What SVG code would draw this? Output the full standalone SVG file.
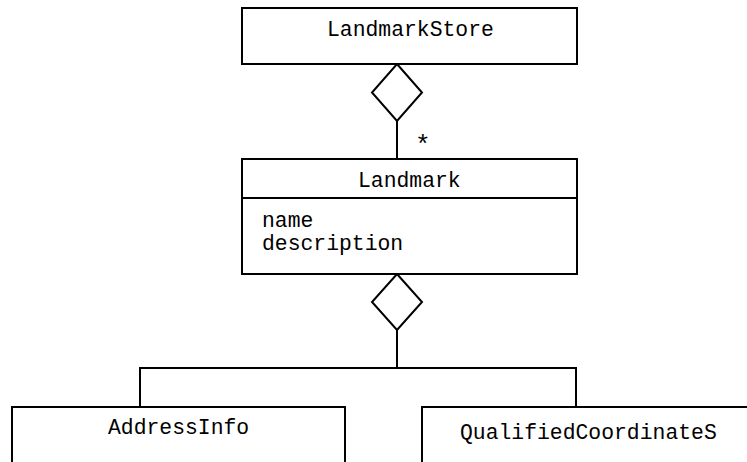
<svg xmlns="http://www.w3.org/2000/svg" width="747" height="462" viewBox="0 0 747 462">
<style>
.box{fill:#fff;stroke:#000;stroke-width:2}
.ln{fill:none;stroke:#000;stroke-width:2}
.dia{fill:#fff;stroke:#000;stroke-width:2}
text{font-family:"Liberation Mono","Courier New",monospace;font-size:21.4px;fill:#000}
.mult{font-size:26px}
</style>
<rect width="747" height="462" fill="#fff"/>
<g id="connectors">
<line class="ln" x1="397" y1="121" x2="397" y2="159"/>
<polygon class="dia" points="397,64 422,92.5 397,121 372,92.5"/>
<text class="mult" x="415" y="153">*</text>
<polyline class="ln" points="397,330 397,368"/>
<polyline class="ln" points="140,407 140,368 576,368 576,407"/>
<polygon class="dia" points="397,274 422,302 397,330 372,302"/>
</g>
<g id="LandmarkStore">
<rect class="box" x="242" y="8" width="335" height="56"/>
<text x="327" y="36">LandmarkStore</text>
</g>
<g id="Landmark">
<rect class="box" x="242" y="159" width="335" height="115"/>
<line class="ln" x1="242" y1="198" x2="577" y2="198"/>
<text x="358" y="187">Landmark</text>
<text x="262" y="227">name</text>
<text x="262" y="250">description</text>
</g>
<g id="AddressInfo">
<rect class="box" x="12" y="407" width="333" height="70"/>
<text x="108" y="434">AddressInfo</text>
</g>
<g id="QualifiedCoordinates">
<rect class="box" x="422" y="407" width="340" height="70"/>
<text x="460" y="439">QualifiedCoordinateS</text>
</g>
</svg>
